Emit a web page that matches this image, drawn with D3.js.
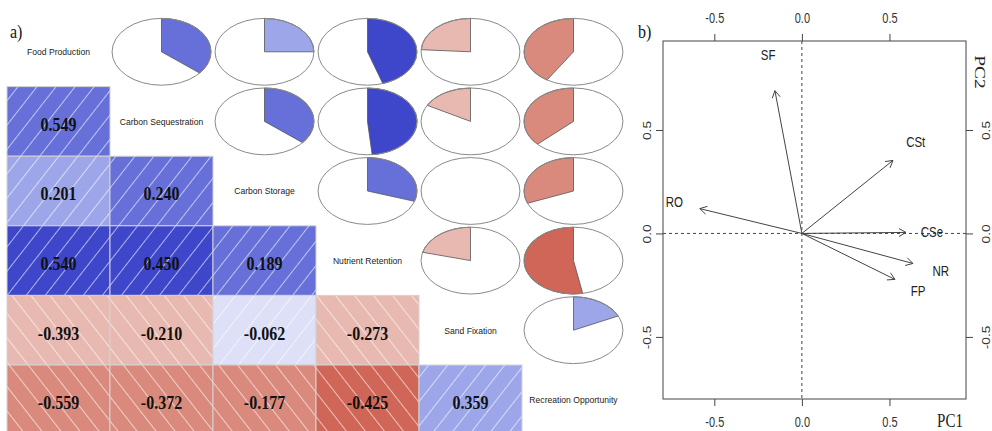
<!DOCTYPE html>
<html>
<head>
<meta charset="utf-8">
<script src="https://cdn.jsdelivr.net/npm/d3@7"></script>
<style>
  body { margin: 0; background: #fff; }
  svg { display: block; }
</style>
</head>
<body>
<svg id="chart" width="992" height="431"></svg>
<script>
// ---- data: panel a ----
var services = ["Food Production", "Carbon Sequestration", "Carbon Storage",
                "Nutrient Retention", "Sand Fixation", "Recreation Opportunity"];

// numbers printed in the lower triangle, row by row (row i, columns 0..i-1)
var printedCorr = [
  [],
  [0.549],
  [0.201, 0.240],
  [0.540, 0.450, 0.189],
  [-0.393, -0.210, -0.062, -0.273],
  [-0.559, -0.372, -0.177, -0.425, 0.359]
];

// correlations behind the pies / shading, upper triangle (row j, columns j+1..5)
var pieCorr = [
  [0.36, 0.25, 0.45, -0.24, -0.41],
  [0.36, 0.485, -0.17, -0.37],
  [0.30, 0.01, -0.31],
  [-0.21, -0.53],
  [0.18]
];

// ---- data: panel b ----
var pcNames = ["FP", "CSe", "CSt", "NR", "SF", "RO"];
var pc1 = [0.531, 0.594, 0.520, 0.634, -0.154, -0.583];
var pc2 = [-0.222, 0.005, 0.353, -0.145, 0.690, 0.120];
var pcTicks = [-0.5, 0, 0.5];

var svg = d3.select("#chart");
var defs = svg.append("defs");

// 14 colour bins from -1 to 1, like corrgram
var shade = d3.scaleQuantize()
  .domain([-1, 1])
  .range(["#8e1b12", "#a82a1e", "#bd4536", "#cf6657", "#d98a7d", "#e7b9b0", "#f4e1dd",
          "#dde0f6", "#9ea6ea", "#6670d8", "#3e46c9", "#2c33a8", "#1f2488", "#141868"]);

function pairValue(a, b) {
  var j = Math.min(a, b), k = Math.max(a, b);
  return pieCorr[j][k - j - 1];
}

// stretched text helper (the source picture is taller than wide)
function stretchedText(parent, x, y, str, k, rot) {
  return parent.append("text")
    .attr("transform", "translate(" + x + "," + y + ") scale(1," + k + ")" + (rot ? " rotate(" + rot + ")" : ""))
    .text(str);
}

// hatch patterns
[["hatchPos", 38], ["hatchNeg", -38]].forEach(function(p) {
  var pat = defs.append("pattern")
    .attr("id", p[0])
    .attr("patternUnits", "userSpaceOnUse")
    .attr("width", 15).attr("height", 15)
    .attr("patternTransform", "rotate(" + p[1] + ")");
  pat.append("line")
    .attr("x1", 7.5).attr("y1", 0).attr("x2", 7.5).attr("y2", 15)
    .attr("stroke", "#fff").attr("stroke-width", 1).attr("stroke-opacity", 0.6);
});

// ================= panel a =================
var gx = d3.scaleBand().domain(d3.range(6)).range([7, 625]);
var gy = d3.scaleBand().domain(d3.range(6)).range([17, 434.6]);
var bw = gx.bandwidth(), bh = gy.bandwidth();

var panelA = svg.append("g").attr("class", "corrgram");

var lowerCells = [];
printedCorr.forEach(function(row, i) {
  row.forEach(function(v, j) { lowerCells.push({ row: i, col: j, text: v, r: pairValue(i, j) }); });
});

var cell = panelA.selectAll("g.cell").data(lowerCells).enter().append("g").attr("class", "cell");
cell.append("rect")
  .attr("x", function(d) { return gx(d.col); })
  .attr("y", function(d) { return gy(d.row); })
  .attr("width", bw).attr("height", bh)
  .attr("fill", function(d) { return shade(d.r); });
cell.append("rect")
  .attr("x", function(d) { return gx(d.col); })
  .attr("y", function(d) { return gy(d.row); })
  .attr("width", bw).attr("height", bh)
  .attr("fill", function(d) { return d.r > 0 ? "url(#hatchPos)" : "url(#hatchNeg)"; })
  .attr("stroke", "#d3d3d3").attr("stroke-width", 1);
cell.each(function(d) {
  stretchedText(d3.select(this), gx(d.col) + bw / 2, gy(d.row) + bh / 2 + 3, d.text.toFixed(3), 1.15)
    .attr("text-anchor", "middle")
    .attr("dy", "0.35em")
    .style("font-family", "'Liberation Serif', 'Times New Roman', serif")
    .style("font-weight", "bold")
    .style("font-size", "16px")
    .style("fill", "#111");
});

// pies in the upper triangle
var upperCells = [];
pieCorr.forEach(function(row, j) {
  row.forEach(function(v, idx) { upperCells.push({ row: j, col: j + idx + 1, r: v }); });
});

var slice = d3.arc().innerRadius(0).outerRadius(1).startAngle(0);

var pie = panelA.selectAll("g.pie").data(upperCells).enter().append("g")
  .attr("class", "pie")
  .attr("transform", function(d) {
    return "translate(" + (gx(d.col) + bw / 2) + "," + (gy(d.row) + bh / 2) + ") scale(" + (bw * 0.48) + "," + (bh * 0.48) + ")";
  });
pie.filter(function(d) { return Math.round(60 * Math.abs(d.r)) > 1; })
  .append("path")
  .attr("d", function(d) { return slice.endAngle(2 * Math.PI * d.r)(); })
  .attr("fill", function(d) { return shade(d.r); })
  .attr("stroke", "#555").attr("stroke-width", 0.8)
  .attr("vector-effect", "non-scaling-stroke");
pie.append("ellipse")
  .attr("cx", 0).attr("cy", 0).attr("rx", 1).attr("ry", 1)
  .attr("fill", "none")
  .attr("stroke", "#8a8a8a").attr("stroke-width", 1)
  .attr("vector-effect", "non-scaling-stroke");

// names on the diagonal
services.forEach(function(s, i) {
  stretchedText(panelA, gx(i) + bw / 2, gy(i) + bh / 2, s, 1.15)
    .attr("text-anchor", "middle")
    .attr("dy", "0.35em")
    .style("font-family", "'Liberation Sans', Arial, sans-serif")
    .style("font-size", "8.6px")
    .style("fill", "#222");
});

stretchedText(svg, 10, 38, "a)", 1.15)
  .style("font-family", "'Liberation Serif', 'Times New Roman', serif")
  .style("font-size", "16px")
  .style("fill", "#111");

// ================= panel b =================
var px = d3.scaleLinear().domain([-0.793, 0.937]).range([663, 966]);
var py = d3.scaleLinear().domain([-0.80, 0.93]).range([399, 41]);
var panelB = svg.append("g").attr("class", "biplot");
var ink = "#444";
var k = 1.25;
var fmt = function(d) { return d.toFixed(1); };

function styleAxis(g) {
  g.select(".domain").remove();
  g.selectAll(".tick line").attr("stroke", ink);
  g.selectAll(".tick text")
    .attr("x", null).attr("y", null).attr("dy", null)
    .attr("text-anchor", "middle")
    .style("font-family", "'Liberation Sans', Arial, sans-serif")
    .style("font-size", "11px")
    .style("fill", "#333");
}

panelB.append("g").attr("transform", "translate(0," + py.range()[1] + ")")
  .call(d3.axisTop(px).tickValues(pcTicks).tickSize(7).tickFormat(fmt))
  .call(styleAxis)
  .selectAll(".tick text").attr("transform", "translate(0,-18) scale(1," + k + ")");

panelB.append("g").attr("transform", "translate(0," + py.range()[0] + ")")
  .call(d3.axisBottom(px).tickValues(pcTicks).tickSize(7).tickFormat(fmt))
  .call(styleAxis)
  .selectAll(".tick text").attr("transform", "translate(0,28) scale(1," + k + ")");

panelB.append("g").attr("transform", "translate(" + px.range()[0] + ",0)")
  .call(d3.axisLeft(py).tickValues(pcTicks).tickSize(7).tickFormat(fmt))
  .call(styleAxis)
  .selectAll(".tick text").attr("transform", "translate(-12,0) scale(1," + k + ") rotate(-90)");

panelB.append("g").attr("transform", "translate(" + px.range()[1] + ",0)")
  .call(d3.axisRight(py).tickValues(pcTicks).tickSize(7).tickFormat(fmt))
  .call(styleAxis)
  .selectAll(".tick text").attr("transform", "translate(24,0) scale(1," + k + ") rotate(-90)");

panelB.append("rect")
  .attr("x", px.range()[0]).attr("y", py.range()[1])
  .attr("width", px.range()[1] - px.range()[0])
  .attr("height", py.range()[0] - py.range()[1])
  .attr("fill", "none").attr("stroke", ink).attr("stroke-width", 1);

// zero reference lines
panelB.append("line")
  .attr("x1", px(0)).attr("x2", px(0)).attr("y1", py.range()[1]).attr("y2", py.range()[0])
  .attr("stroke", ink).attr("stroke-dasharray", "3,3");
panelB.append("line")
  .attr("x1", px.range()[0]).attr("x2", px.range()[1]).attr("y1", py(0)).attr("y2", py(0))
  .attr("stroke", ink).attr("stroke-dasharray", "3,3");

// loading arrows
var loadings = pcNames.map(function(n, i) { return { name: n, x: pc1[i], y: pc2[i] }; });
var headLen = 8, headAng = Math.PI / 6;
panelB.selectAll("path.arrow").data(loadings).enter().append("path")
  .attr("class", "arrow")
  .attr("d", function(d) {
    var x0 = px(0), y0 = py(0), x1 = px(d.x), y1 = py(d.y);
    var a = Math.atan2(y1 - y0, x1 - x0);
    return "M" + x0 + "," + y0 + "L" + x1 + "," + y1 +
      "M" + (x1 - headLen * Math.cos(a - headAng)) + "," + (y1 - headLen * Math.sin(a - headAng)) +
      "L" + x1 + "," + y1 +
      "L" + (x1 - headLen * Math.cos(a + headAng)) + "," + (y1 - headLen * Math.sin(a + headAng));
  })
  .attr("fill", "none").attr("stroke", ink).attr("stroke-width", 1);

loadings.forEach(function(d) {
  stretchedText(panelB, px(d.x * 1.25), py(d.y * 1.25), d.name, k)
    .attr("text-anchor", "middle")
    .attr("dy", "0.35em")
    .style("font-family", "'Liberation Sans', Arial, sans-serif")
    .style("font-size", "11.5px")
    .style("fill", "#222");
});

stretchedText(panelB, 950, 427, "PC1", 1.3)
  .attr("text-anchor", "middle")
  .style("font-family", "'Liberation Serif', 'Times New Roman', serif")
  .style("font-size", "15px").style("fill", "#222");
stretchedText(panelB, 975, 72, "PC2", 1.3, 90)
  .attr("text-anchor", "middle")
  .style("font-family", "'Liberation Serif', 'Times New Roman', serif")
  .style("font-size", "15px").style("fill", "#222");

stretchedText(svg, 638, 38, "b)", 1.15)
  .style("font-family", "'Liberation Serif', 'Times New Roman', serif")
  .style("font-size", "16px")
  .style("fill", "#111");
</script>
</body>
</html>
